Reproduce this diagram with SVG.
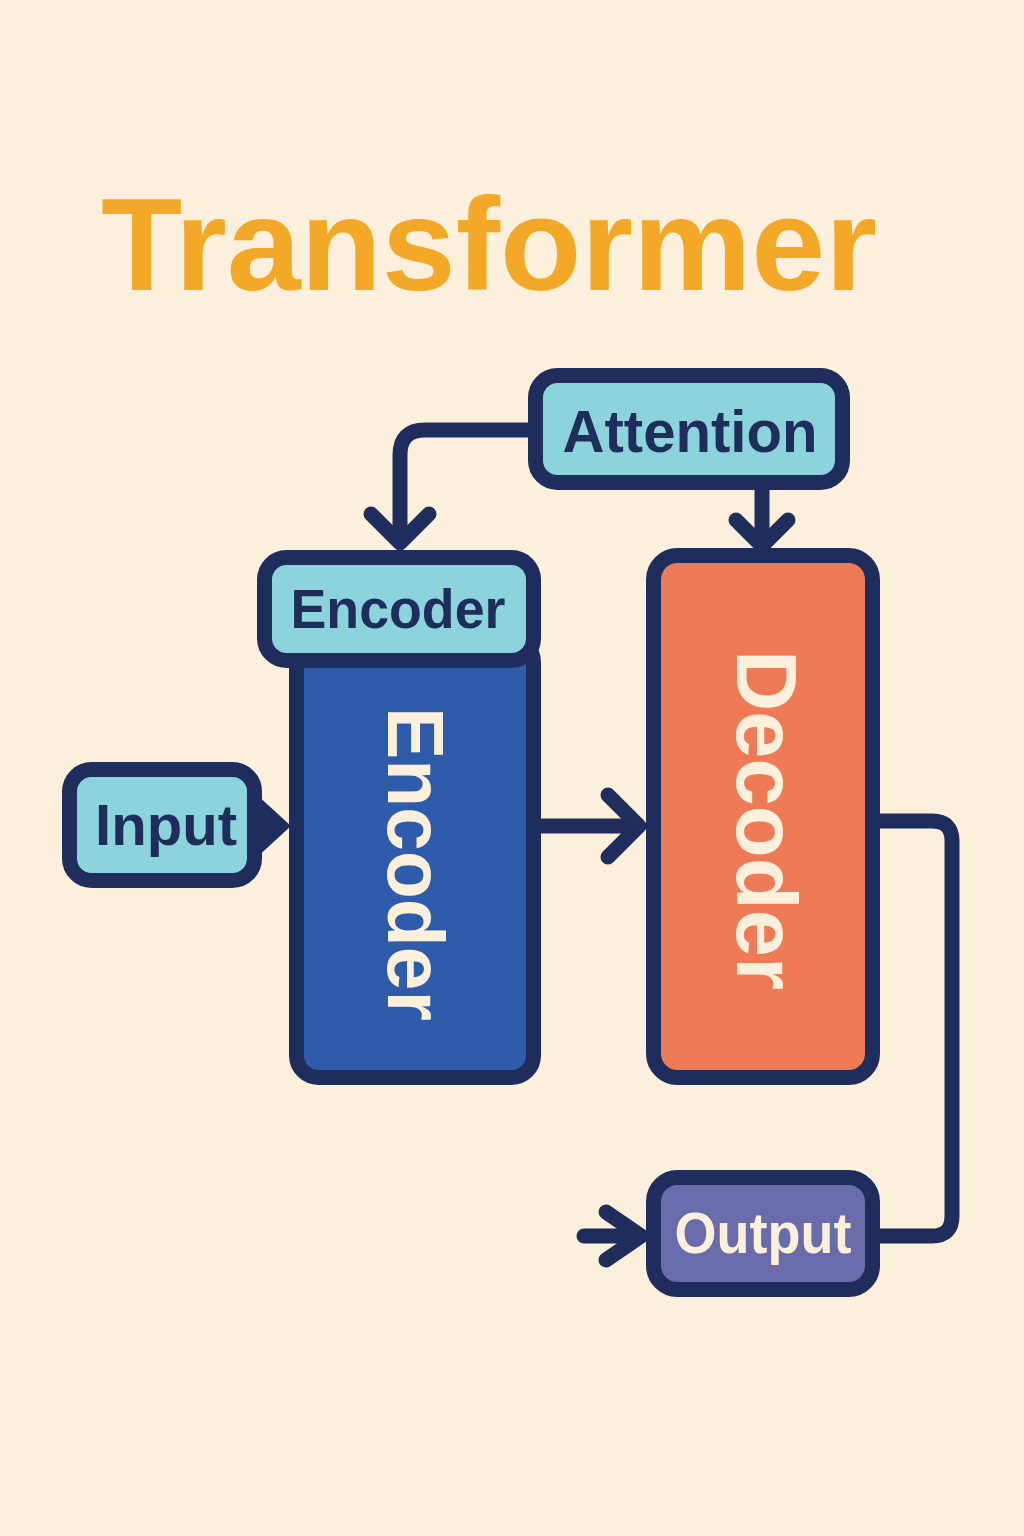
<svg xmlns="http://www.w3.org/2000/svg" width="1024" height="1536" viewBox="0 0 1024 1536">
  <style>
    .box { stroke: #1F2D5C; stroke-width: 15; stroke-linejoin: round; }
    .cyan { fill: #8DD3DC; }
    .lbl { font-family: "Liberation Sans", "Open Sans", Arial, sans-serif; font-weight: 700; text-anchor: middle; }
    .dark { fill: #1F2D5C; }
    .light { fill: #FCEFDC; }
    .conn { fill: none; stroke: #1F2D5C; stroke-width: 15; stroke-linecap: round; stroke-linejoin: round; }
  </style>
  <rect x="0" y="0" width="1024" height="1536" fill="#FCEFDC"/>

  <g id="title">
    <text x="489" y="290" class="lbl" font-size="132" fill="#F4A827" textLength="776" lengthAdjust="spacingAndGlyphs">Transformer</text>
  </g>

  <g id="connectors">
    <!-- Attention -> Encoder -->
    <path class="conn" d="M528,430 H425 Q400,430 400,455 V540"/>
    <path class="conn" d="M371,514 L400,543 L429,514"/>
    <!-- Attention -> Decoder -->
    <path class="conn" d="M762,490 V543"/>
    <path class="conn" d="M736,520 L762,546 L788,520"/>
    <!-- Encoder -> Decoder -->
    <path class="conn" d="M541,826 H637"/>
    <path class="conn" d="M608,795 L639,826 L608,857"/>
    <!-- Decoder -> Output loop -->
    <path class="conn" d="M880,821 H932 Q952,821 952,841 V1216 Q952,1236 932,1236 H880"/>
    <!-- Arrow into Output -->
    <path class="conn" d="M584,1236 H638"/>
    <path class="conn" d="M606,1212 L641,1236 L606,1260"/>
  </g>

  <g id="attention">
    <rect class="box cyan" x="535.5" y="375.5" width="307" height="107" rx="22"/>
    <text x="690" y="452" class="lbl dark" font-size="60" textLength="255" lengthAdjust="spacingAndGlyphs">Attention</text>
  </g>

  <g id="encoder">
    <rect class="box" fill="#2E5BAA" x="296.5" y="640" width="237" height="437.5" rx="22"/>
    <rect class="box cyan" x="264.5" y="557.5" width="269" height="103" rx="22"/>
    <text x="398" y="628" class="lbl dark" font-size="56" textLength="215" lengthAdjust="spacingAndGlyphs">Encoder</text>
    <text transform="translate(388,864) rotate(90)" x="0" y="0" class="lbl light" font-size="79" textLength="314" lengthAdjust="spacingAndGlyphs">Encoder</text>
  </g>

  <g id="decoder">
    <rect class="box" fill="#EE7B56" x="653.5" y="555.5" width="219" height="522" rx="24"/>
    <text transform="translate(737,820) rotate(90)" x="0" y="0" class="lbl light" font-size="86" textLength="340" lengthAdjust="spacingAndGlyphs">Decoder</text>
  </g>

  <g id="input">
    <path d="M255,793 L291,826 L255,859 Z" fill="#1F2D5C"/>
    <rect class="box cyan" x="69.5" y="769.5" width="185" height="111" rx="22"/>
    <text x="166" y="845" class="lbl dark" font-size="58" textLength="142" lengthAdjust="spacingAndGlyphs">Input</text>
  </g>

  <g id="output">
    <rect class="box" fill="#6A6BAB" x="653.5" y="1177.5" width="219" height="112" rx="24"/>
    <text x="763" y="1253" class="lbl light" font-size="57" textLength="177" lengthAdjust="spacingAndGlyphs">Output</text>
  </g>
</svg>
